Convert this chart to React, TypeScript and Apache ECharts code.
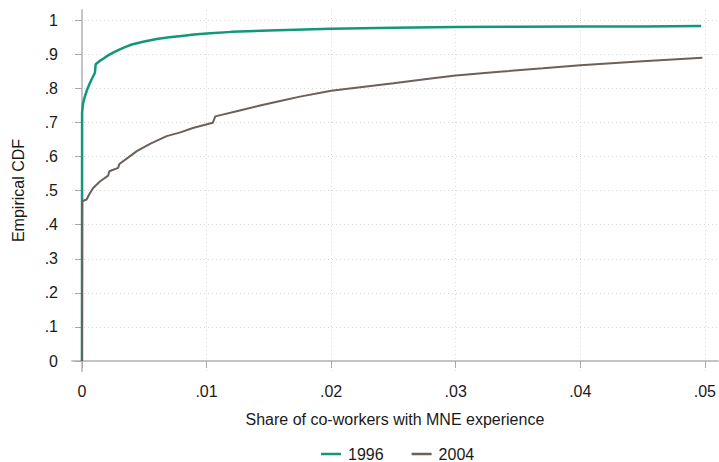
import React, { useEffect, useRef } from "react";
import * as echarts from "echarts";

// ---- Data ----
const seriesNames = ["1996", "2004"];

// Empirical CDF, 1996: [share, cdf]
const cdf1996: [number, number][] = [
  [0, 0],
  [0.00001, 0.73],
  [0.00008, 0.755],
  [0.00024, 0.777],
  [0.00045, 0.8],
  [0.00064, 0.816],
  [0.00085, 0.832],
  [0.00104, 0.846],
  [0.0011, 0.871],
  [0.0014, 0.88],
  [0.0017, 0.887],
  [0.0021, 0.897],
  [0.0025, 0.905],
  [0.003, 0.914],
  [0.0035, 0.922],
  [0.004, 0.929],
  [0.005, 0.938],
  [0.006, 0.945],
  [0.007, 0.95],
  [0.008, 0.954],
  [0.009, 0.958],
  [0.01, 0.961],
  [0.012, 0.966],
  [0.015, 0.97],
  [0.02, 0.975],
  [0.025, 0.978],
  [0.03, 0.98],
  [0.035, 0.981],
  [0.04, 0.982],
  [0.045, 0.982],
  [0.0497, 0.983],
];

// Empirical CDF, 2004: [share, cdf]
const cdf2004: [number, number][] = [
  [0, 0],
  [0.00002, 0.469],
  [0.00037, 0.474],
  [0.0006, 0.49],
  [0.0009, 0.508],
  [0.00144, 0.527],
  [0.0021, 0.544],
  [0.0022, 0.557],
  [0.0029, 0.567],
  [0.003, 0.578],
  [0.0037, 0.597],
  [0.0044, 0.616],
  [0.0055, 0.638],
  [0.0068, 0.66],
  [0.0079, 0.671],
  [0.0089, 0.684],
  [0.0105, 0.699],
  [0.0107, 0.718],
  [0.0125, 0.734],
  [0.0143, 0.75],
  [0.016, 0.764],
  [0.0175, 0.776],
  [0.02, 0.793],
  [0.022, 0.802],
  [0.025, 0.815],
  [0.028, 0.829],
  [0.03, 0.838],
  [0.0335, 0.849],
  [0.037, 0.859],
  [0.04, 0.868],
  [0.045, 0.88],
  [0.0498, 0.89],
];

const xTicks = [0, 0.01, 0.02, 0.03, 0.04, 0.05];
const xTickLabels = ["0", ".01", ".02", ".03", ".04", ".05"];
const yTicks = [0, 0.1, 0.2, 0.3, 0.4, 0.5, 0.6, 0.7, 0.8, 0.9, 1];
const yTickLabels = ["0", ".1", ".2", ".3", ".4", ".5", ".6", ".7", ".8", ".9", "1"];

const xTitle = "Share of co-workers with MNE experience";
const yTitle = "Empirical CDF";

const COLORS = ["#12977a", "#6b605a"];
const FONT = "'Liberation Sans', Arial, sans-serif";
const FS = 16;
const TEXT_COLOR = "#1a1a1a";

function labelFor(ticks: number[], labels: string[], v: number): string {
  for (let i = 0; i < ticks.length; i++) {
    if (Math.abs(ticks[i] - v) < 1e-9) return labels[i];
  }
  return "";
}

export default function App() {
  const ref = useRef<HTMLDivElement>(null);

  useEffect(() => {
    if (!ref.current) return;
    const chart = echarts.init(ref.current, null, { renderer: "svg" });
    const option: any = {
      animation: false,
      backgroundColor: "#ffffff",
      textStyle: { fontFamily: FONT },
      grid: { left: 72, top: 10, width: 647, height: 361, containLabel: false },
      legend: {
        left: 316,
        top: 441,
        icon: "rect",
        itemWidth: 20,
        itemHeight: 2.5,
        itemGap: 28,
        data: seriesNames,
        textStyle: { fontFamily: FONT, fontSize: FS, lineHeight: 16, color: TEXT_COLOR, padding: [0, 0, 0, 2] },
      },
      xAxis: {
        type: "value",
        min: -0.0008,
        max: 0.05104,
        name: xTitle,
        nameLocation: "middle",
        nameGap: 40,
        nameTextStyle: { fontFamily: FONT, fontSize: FS, color: TEXT_COLOR },
        axisLine: { show: true, lineStyle: { color: "#c4c4c4", width: 2 } },
        axisTick: { show: true, length: 7, customValues: xTicks, lineStyle: { color: "#a8a8a8", width: 1 } },
        axisLabel: {
          customValues: xTicks,
          margin: 12,
          fontFamily: FONT,
          fontSize: FS,
          color: TEXT_COLOR,
          formatter: (v: number) => labelFor(xTicks, xTickLabels, v),
        },
        splitLine: { show: true, lineStyle: { color: "#d9d9d9", type: [1, 3], width: 1 } },
      },
      yAxis: {
        type: "value",
        min: -0.02935,
        max: 1.0302,
        name: yTitle,
        nameLocation: "middle",
        nameGap: 46,
        nameTextStyle: { fontFamily: FONT, fontSize: FS, color: TEXT_COLOR },
        axisLine: { show: true, lineStyle: { color: "#c4c4c4", width: 2 } },
        axisTick: { show: true, length: 7, customValues: yTicks, lineStyle: { color: "#a8a8a8", width: 1 } },
        axisLabel: {
          customValues: yTicks,
          margin: 14,
          fontFamily: FONT,
          fontSize: FS,
          color: TEXT_COLOR,
          formatter: (v: number) => labelFor(yTicks, yTickLabels, v),
        },
        splitLine: { show: true, lineStyle: { color: "#d9d9d9", type: [1, 3], width: 1 } },
      },
      series: [
        {
          name: seriesNames[0],
          type: "line",
          data: cdf1996,
          showSymbol: false,
          symbol: "none",
          color: COLORS[0],
          lineStyle: { color: COLORS[0], width: 2.5 },
          z: 2,
        },
        {
          name: seriesNames[1],
          type: "line",
          data: cdf2004,
          showSymbol: false,
          symbol: "none",
          color: COLORS[1],
          lineStyle: { color: COLORS[1], width: 2 },
          z: 3,
        },
      ],
    };
    chart.setOption(option);
    return () => chart.dispose();
  }, []);

  return <div ref={ref} style={{ width: 719, height: 462, position: "absolute", left: 0, top: 0 }} />;
}
